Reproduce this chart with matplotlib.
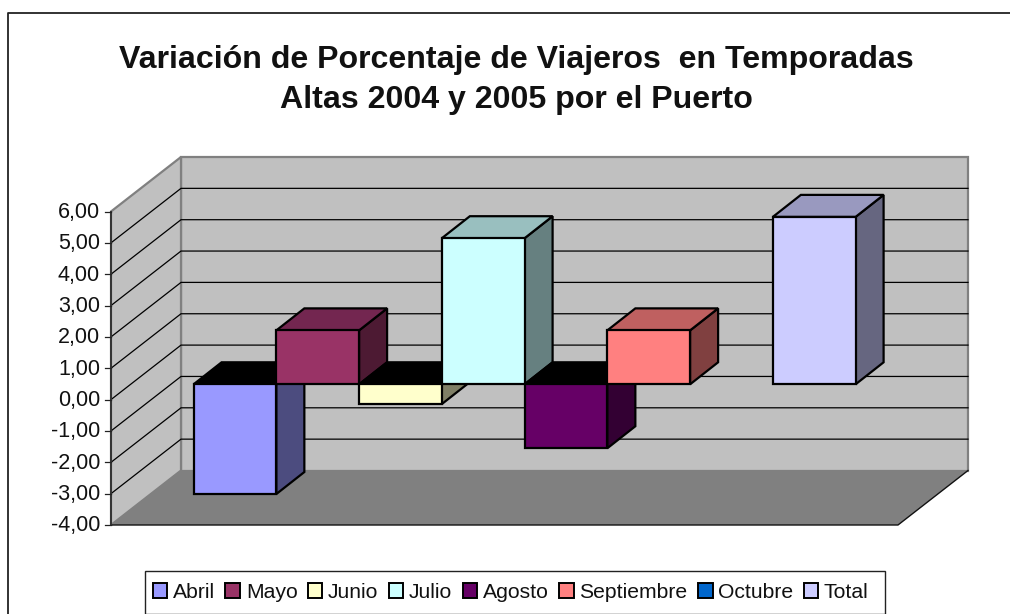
import matplotlib
matplotlib.use("Agg")
import matplotlib.pyplot as plt
from matplotlib.patches import Polygon, Patch, Rectangle

plt.rcParams["font.family"] = ["Liberation Sans", "DejaVu Sans"]

meses = ["Abril", "Mayo", "Junio", "Julio", "Agosto", "Septiembre", "Octubre", "Total"]
valores = [-3.50, 1.72, -0.63, 4.66, -2.04, 1.72, 0.0, 5.34]
colores = ["#9999FF", "#993366", "#FFFFCC", "#CCFFFF", "#660066", "#FF8080", "#0066CC", "#CCCCFF"]
colores_techo = ["#000000", "#732650", "#000000", "#99BFBF", "#000000", "#BF6060", "#000000", "#9999BF"]
colores_lado = ["#4C4C7F", "#4D1A33", "#7F7F66", "#668080", "#330033", "#804040", "#003366", "#666680"]
marcas = [6, 5, 4, 3, 2, 1, 0, -1, -2, -3, -4]
titulo = "Variación de Porcentaje de Viajeros  en Temporadas\nAltas 2004 y 2005 por el Puerto"

# geometria de la caja 3D, en pixeles de la figura
X_FRENTE, X_FONDO, X_DER = 111, 181, 968
Y_CERO_FRENTE = 399.6
ESCALA = 31.35
DX, DY = 70, 54.5
BARRA_X0, BARRA_W = 193.6, 82.75
BARRA_DX, BARRA_DY = 28, 22
Y_CERO_BARRA = 384.3


def y_frente(v):
    return Y_CERO_FRENTE - v * ESCALA


def y_barra(v):
    return Y_CERO_BARRA - v * ESCALA


fig = plt.figure(figsize=(10.1, 6.14), dpi=100)
ax = fig.add_axes([0, 0, 1, 1])
ax.set_xlim(0, 1010)
ax.set_ylim(614, 0)
ax.axis("off")

# borde del grafico (solo arriba e izquierda)
ax.plot([7.5, 7.5, 1010], [614, 12.5, 12.5], color="#222222", lw=1.3, zorder=1)

# paredes y piso
y_top, y_bot = y_frente(6), y_frente(-4)
ax.add_patch(Polygon([(X_FONDO, y_top - DY), (X_DER, y_top - DY), (X_DER, y_bot - DY), (X_FONDO, y_bot - DY)],
                     fc="#C0C0C0", ec="#808080", lw=1.6, zorder=2))
ax.add_patch(Polygon([(X_FRENTE, y_top), (X_FONDO, y_top - DY), (X_FONDO, y_bot - DY), (X_FRENTE, y_bot)],
                     fc="#C0C0C0", ec="#808080", lw=1.6, zorder=2))

# lineas de division
for v in marcas[1:-1]:
    y = y_frente(v)
    ax.plot([X_FRENTE, X_FONDO, X_DER], [y, y - DY, y - DY], color="black", lw=0.9, zorder=3)

ax.add_patch(Polygon([(X_FRENTE, y_bot), (X_FONDO, y_bot - DY), (X_DER, y_bot - DY), (X_DER - DX, y_bot)],
                     fc="#808080", ec="none", zorder=4))
ax.plot([X_FRENTE, X_DER - DX, X_DER], [y_bot, y_bot, y_bot - DY], color="#111111", lw=1.0, zorder=5)

# eje de valores
ax.plot([X_FRENTE, X_FRENTE], [y_top, y_bot], color="#333333", lw=1.4, zorder=6)
for v in marcas:
    y = y_frente(v)
    ax.plot([X_FRENTE - 6, X_FRENTE], [y, y], color="#222222", lw=0.9, zorder=6)
    ax.text(100, y + 0.8, f"{v:.2f}".replace(".", ","), ha="right", va="center", fontsize=15.5, color="#111111")

# barras, de izquierda a derecha para que se tapen como en el original
z = 10
for i, v in enumerate(valores):
    if v == 0:
        continue
    x0 = BARRA_X0 + i * BARRA_W
    x1 = x0 + BARRA_W
    y0 = y_barra(0)
    yv = y_barra(v)
    arriba = min(y0, yv)
    abajo = max(y0, yv)
    estilo = dict(ec="black", lw=1.6, joinstyle="miter")
    ax.add_patch(Polygon([(x1, arriba), (x1 + BARRA_DX, arriba - BARRA_DY),
                          (x1 + BARRA_DX, abajo - BARRA_DY), (x1, abajo)],
                         fc=colores_lado[i], zorder=z, **estilo))
    ax.add_patch(Polygon([(x0, arriba), (x0 + BARRA_DX, arriba - BARRA_DY),
                          (x1 + BARRA_DX, arriba - BARRA_DY), (x1, arriba)],
                         fc=colores_techo[i], zorder=z, **estilo))
    ax.add_patch(Polygon([(x0, arriba), (x1, arriba), (x1, abajo), (x0, abajo)],
                         fc=colores[i], zorder=z + 1, **estilo))
    z += 2

ax.text(516, 80, titulo, ha="center", va="center", fontsize=23.15, fontweight="bold",
        linespacing=1.45, color="#111111")

# leyenda: el marco va aparte para fijar su alto
ax.add_patch(Rectangle((144.5, 570.5), 740.5, 43, fc="white", ec="#222222", lw=1.0, zorder=30))
handles = [Patch(fc=c, ec="black", lw=1.4, label=m) for m, c in zip(meses, colores)]
leg = ax.legend(handles=handles, ncol=8, loc="center left", bbox_to_anchor=(145, 592),
                bbox_transform=ax.transData, borderaxespad=0, fontsize=15.2, frameon=False,
                handlelength=0.7, handleheight=0.7, handletextpad=0.27, columnspacing=0.48,
                borderpad=0.36, labelcolor="#111111")
leg.set_zorder(31)

fig.savefig("out.png", dpi=100)
